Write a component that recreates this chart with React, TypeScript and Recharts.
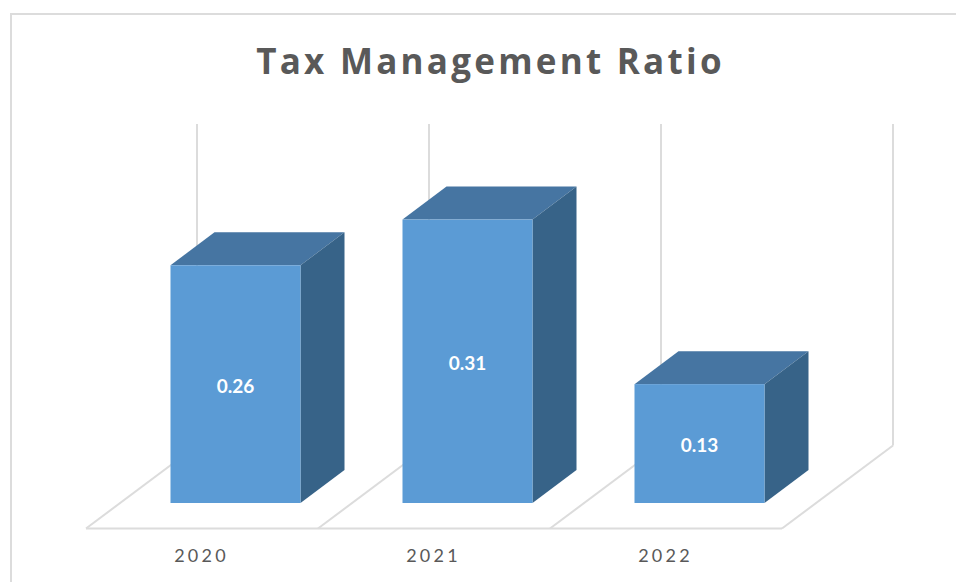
import React from "react";
import { BarChart, Bar, XAxis, YAxis, LabelList, Customized } from "recharts";

const years = ["2020", "2021", "2022"];
const ratios = [0.26, 0.31, 0.13];
const chartData = years.map((year, i) => ({ year, ratio: ratios[i] }));

const WIDTH = 956;
const HEIGHT = 582;
const PLOT_LEFT = 119.5;
const PLOT_RIGHT = 815.5;
const PLOT_TOP = 183;
const PLOT_BOTTOM = 503;
const DEPTH_X = 44;
const DEPTH_Y = 33;
const GRID = "#dcdcdc";
const FONT = "Lato, sans-serif";

// the 3d box, built around the rect the bar scale gives us
function Box3D({ x, y, width, height }: any) {
  const r = x + width;
  const b = y + height;
  return (
    <g>
      <polygon
        points={`${x},${y} ${x + DEPTH_X},${y - DEPTH_Y} ${r + DEPTH_X},${y - DEPTH_Y} ${r},${y}`}
        fill="#4675a2"
      />
      <polygon
        points={`${r},${y} ${r + DEPTH_X},${y - DEPTH_Y} ${r + DEPTH_X},${b - DEPTH_Y} ${r},${b}`}
        fill="#376388"
      />
      <rect x={x} y={y} width={width} height={height} fill="#5b9bd5" />
    </g>
  );
}

// floor and back wall lines of the 3d plot
function Floor() {
  const band = (PLOT_RIGHT - PLOT_LEFT) / years.length;
  const frontY = PLOT_BOTTOM + 25.5;
  const backY = frontY - 83;
  const topY = 124;
  const stops = [0, 1, 2, 3];
  return (
    <g stroke={GRID} strokeWidth={2} fill="none">
      <line x1={PLOT_LEFT - 33.5} y1={frontY} x2={PLOT_RIGHT - 33.5} y2={frontY} />
      {stops.map((i) => {
        const fx = PLOT_LEFT - 33.5 + i * band;
        return (
          <g key={i}>
            <line x1={fx} y1={frontY} x2={fx + 111} y2={backY} />
            <line x1={fx + 111} y1={backY} x2={fx + 111} y2={topY} />
          </g>
        );
      })}
    </g>
  );
}

function YearTick({ x, y, payload }: any) {
  return (
    <text
      x={x - 34}
      y={y + 9}
      textAnchor="middle"
      fontFamily={FONT}
      fontSize={18}
      letterSpacing={3.2}
      fill="#595959"
    >
      {payload.value}
    </text>
  );
}

export default function App() {
  return (
    <div style={{ position: "fixed", left: 0, top: 0, width: WIDTH, height: HEIGHT, background: "#fff" }}>
      <div
        style={{
          position: "absolute",
          left: 10,
          top: 13,
          right: 0,
          bottom: 0,
          borderLeft: `2px solid ${GRID}`,
          borderTop: `2px solid ${GRID}`,
        }}
      />
      <div
        style={{
          position: "absolute",
          left: 0,
          width: 981,
          top: 38,
          textAlign: "center",
          fontFamily: "'Open Sans', sans-serif",
          fontWeight: 700,
          fontSize: 35,
          lineHeight: "46px",
          letterSpacing: 3.25,
          color: "#595959",
        }}
      >
        Tax Management Ratio
      </div>
      <BarChart
        width={WIDTH}
        height={HEIGHT}
        data={chartData}
        margin={{ top: PLOT_TOP, right: WIDTH - PLOT_RIGHT, left: PLOT_LEFT, bottom: 49 }}
        style={{ position: "absolute", left: 0, top: 0 }}
      >
        <Customized component={Floor} />
        <XAxis
          dataKey="year"
          height={30}
          axisLine={false}
          tickLine={false}
          interval={0}
          tick={<YearTick />}
          tickMargin={44}
        />
        <YAxis hide domain={[0, 0.35]} />
        <Bar dataKey="ratio" barSize={130} shape={<Box3D />} isAnimationActive={false}>
          <LabelList
            dataKey="ratio"
            position="center"
            fill="#ffffff"
            fontFamily={FONT}
            fontWeight={700}
            fontSize={19}
            dy={2}
          />
        </Bar>
      </BarChart>
    </div>
  );
}
